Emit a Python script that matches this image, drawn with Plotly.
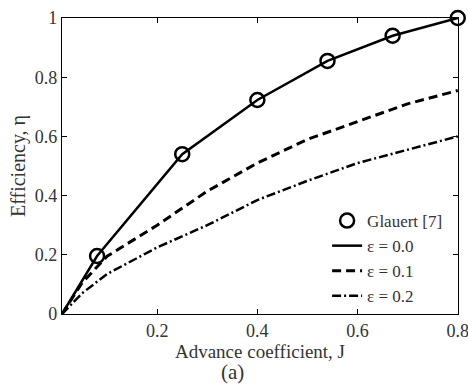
import plotly.graph_objects as go

# Glauert reference points
glauert_J = [0.08, 0.25, 0.40, 0.54, 0.67, 0.80]
glauert_eta = [0.196, 0.54, 0.723, 0.855, 0.94, 1.0]

# epsilon = 0.0 (solid) passes through the Glauert points from the origin
eps0_J = [0.01, 0.08, 0.25, 0.40, 0.54, 0.67, 0.80]
eps0_eta = [0.0, 0.196, 0.54, 0.723, 0.855, 0.94, 1.0]

# epsilon = 0.1 and 0.2
J_grid = [0.01, 0.05, 0.10, 0.20, 0.30, 0.40, 0.50, 0.60, 0.70, 0.80]
eps1_eta = [0.0, 0.105, 0.195, 0.30, 0.415, 0.51, 0.59, 0.65, 0.71, 0.755]
eps2_eta = [0.0, 0.07, 0.135, 0.225, 0.30, 0.385, 0.45, 0.51, 0.555, 0.60]

x_ticks = [0.2, 0.4, 0.6, 0.8]
x_ticklabels = ["0.2", "0.4", "0.6", "0.8"]
y_ticks = [0, 0.2, 0.4, 0.6, 0.8, 1]
y_ticklabels = ["0", "0.2", "0.4", "0.6", "0.8", "1"]

FONT = "Liberation Serif, Times New Roman, serif"
TXT = "#333"

fig = go.Figure()
fig.add_trace(go.Scatter(x=eps0_J, y=eps0_eta, mode="lines", name="ε = 0.0",
                         line=dict(color="black", width=2.5), legendrank=2))
fig.add_trace(go.Scatter(x=J_grid, y=eps1_eta, mode="lines", name="ε = 0.1",
                         line=dict(color="black", width=3, dash="9px,5px"), legendrank=3))
fig.add_trace(go.Scatter(x=J_grid, y=eps2_eta, mode="lines", name="ε = 0.2",
                         line=dict(color="black", width=2.5, dash="9px,3px,2px,3px"), legendrank=4))
fig.add_trace(go.Scatter(x=glauert_J, y=glauert_eta, mode="markers", name="Glauert [7]",
                         marker=dict(symbol="circle-open", size=14, color="black",
                                     line=dict(width=2.5, color="black")), legendrank=1,
                         cliponaxis=False))

axis_common = dict(showline=True, linecolor="black", linewidth=1.2, mirror="ticks",
                   ticks="inside", ticklen=5, tickcolor="black", showgrid=False,
                   zeroline=False, automargin=False, ticklabeloverflow="allow",
                   tickfont=dict(family=FONT, size=18, color=TXT))

fig.update_layout(
    width=468, height=391,
    margin=dict(l=62, r=10, t=18, b=77),
    plot_bgcolor="white", paper_bgcolor="white",
    font=dict(family=FONT, size=18, color=TXT),
    xaxis=dict(range=[0.01, 0.8005], tickmode="array", tickvals=x_ticks, ticktext=x_ticklabels,
               title=dict(text="Advance coefficient, J", font=dict(family=FONT, size=19), standoff=0),
               **axis_common),
    yaxis=dict(range=[0, 1], tickmode="array", tickvals=y_ticks, ticktext=y_ticklabels,
               title=dict(text="Efficiency, η", font=dict(family=FONT, size=20), standoff=3),
               **axis_common),
    legend=dict(x=0.975, y=0.0, xanchor="right", yanchor="bottom",
                bgcolor="rgba(0,0,0,0)", font=dict(family=FONT, size=17, color=TXT)),
    showlegend=True,
    annotations=[dict(text="(a)", x=0.43, y=-0.15, xref="paper", yref="paper",
                      xanchor="center", yanchor="top", showarrow=False,
                      font=dict(family=FONT, size=21, color=TXT))],
)

fig.write_html("out.html")
